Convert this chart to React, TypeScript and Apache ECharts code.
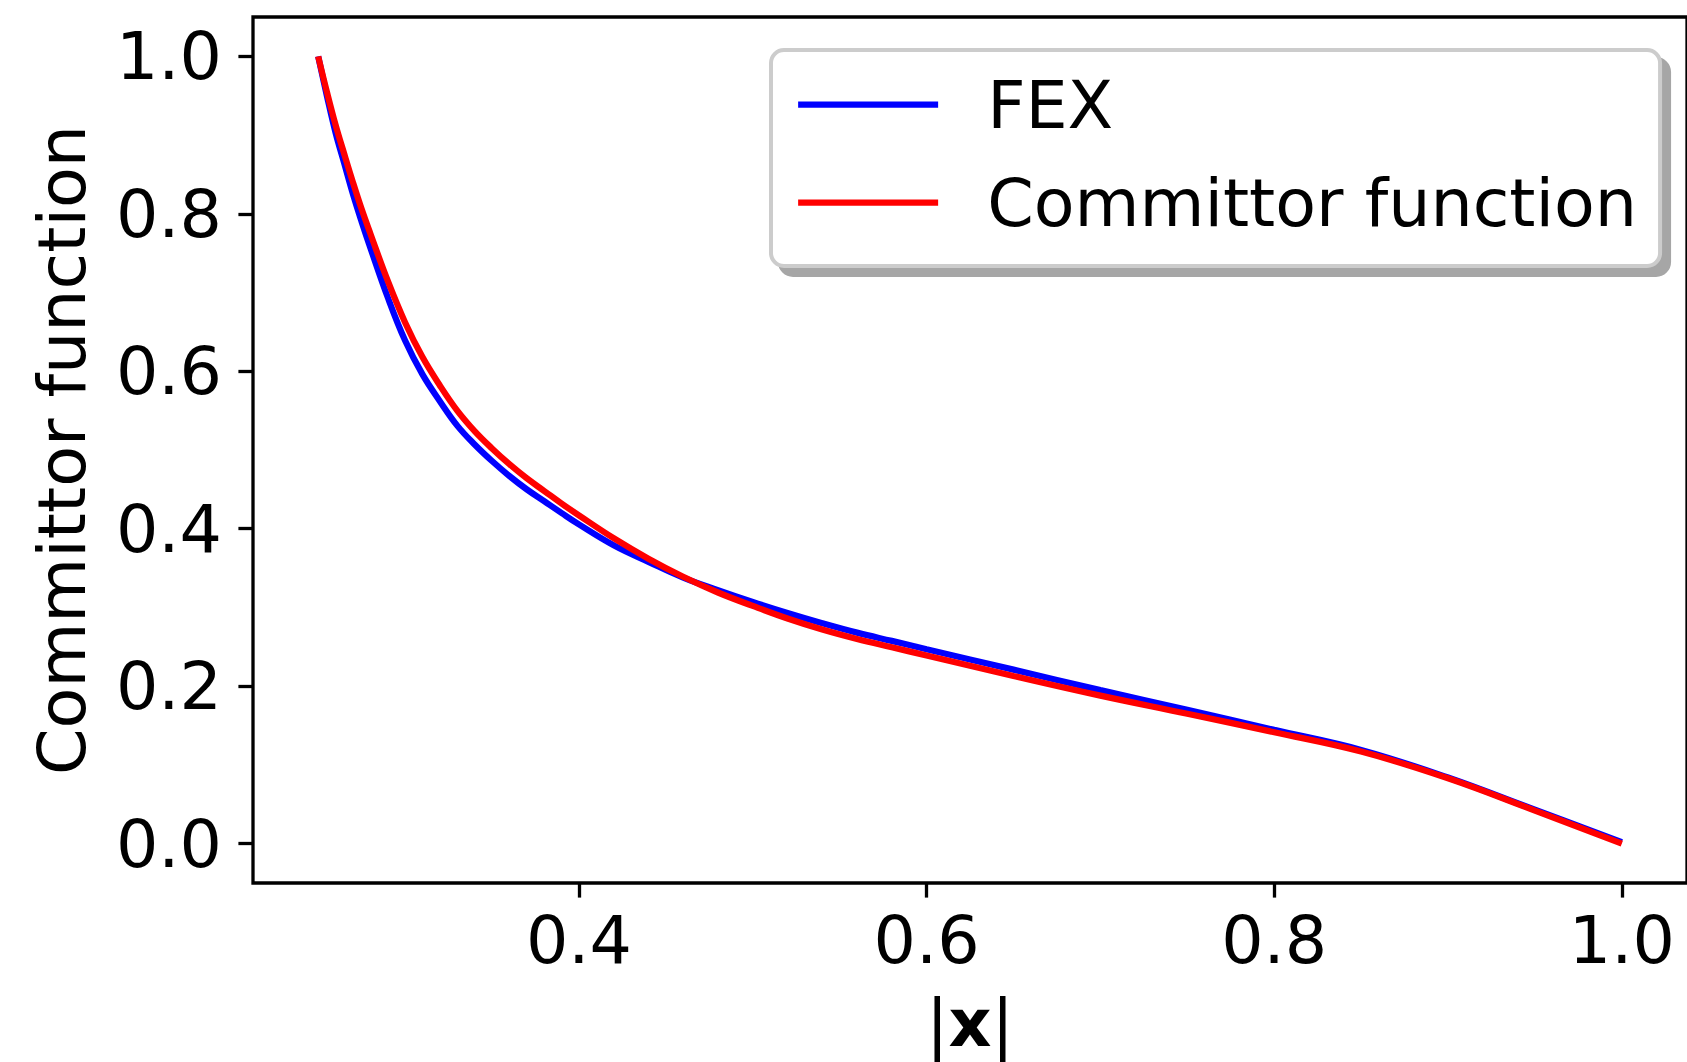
import React, { useEffect, useRef } from "react";
import * as echarts from "echarts";

const xValues = [
  0.25, 0.255, 0.26, 0.265, 0.27, 0.275, 0.28, 0.29, 0.3, 0.31, 0.32, 0.33, 0.34, 0.35, 0.36, 0.37, 0.38, 0.39,
  0.4, 0.42, 0.44, 0.46, 0.48, 0.5, 0.52, 0.54, 0.56, 0.58, 0.6, 0.65, 0.7, 0.75, 0.8, 0.85, 0.9, 0.95, 1.0,
];
const fexValues = [
  1.0, 0.95, 0.903, 0.864, 0.825, 0.79, 0.757, 0.694, 0.639, 0.596, 0.562, 0.531, 0.507, 0.486, 0.467, 0.45, 0.435, 0.42,
  0.4055, 0.379, 0.358, 0.338, 0.322, 0.307, 0.293, 0.28, 0.268, 0.2575, 0.247, 0.221, 0.195, 0.17, 0.1445, 0.119, 0.084, 0.043, 0.002,
];
const committorValues = [
  1.0, 0.955, 0.913, 0.876, 0.84, 0.806, 0.775, 0.715, 0.662, 0.618, 0.582, 0.55, 0.524, 0.502, 0.482, 0.464, 0.448, 0.432,
  0.417, 0.388, 0.362, 0.339, 0.319, 0.302, 0.286, 0.272, 0.26, 0.2495, 0.239, 0.213, 0.188, 0.165, 0.1415, 0.117, 0.083, 0.042, 0.0,
];
const xTicks = [0.4, 0.6, 0.8, 1.0];
const yTicks = [0.0, 0.2, 0.4, 0.6, 0.8, 1.0];
const seriesNames = ["FEX", "Committor function"];

const FONT = "DejaVu Sans";
const FS = 66.7;

export default function App() {
  const ref = useRef<HTMLDivElement>(null);
  useEffect(() => {
    document.body.style.margin = "0";
    const chart = echarts.init(ref.current!, null, { renderer: "svg" });
    const tickStyle = { show: true, length: 14.6, lineStyle: { color: "#000", width: 3.3 } };
    chart.setOption({
      animation: false,
      backgroundColor: "#fff",
      grid: {
        left: 253,
        top: 17,
        bottom: 179,
        right: -9.6,
        show: true,
        borderColor: "#000",
        borderWidth: 3.3,
        backgroundColor: "transparent",
      },
      legend: {
        left: 771,
        top: 50,
        orient: "vertical",
        data: seriesNames,
        itemWidth: 140,
        itemHeight: 67,
        itemGap: 31,
        padding: [21, 23, 30, 24],
        backgroundColor: "#fff",
        borderColor: "#cccccc",
        borderWidth: 4,
        borderRadius: 13,
        shadowColor: "#a6a6a6",
        shadowBlur: 0,
        shadowOffsetX: 9,
        shadowOffsetY: 9,
        itemStyle: { opacity: 0 },
        lineStyle: { width: 6.25 },
        formatter: (name: string) => `{gap|}{txt|${name}}`,
        textStyle: {
          rich: {
            gap: { width: 44, height: 67 },
            txt: { fontSize: FS, fontFamily: FONT, color: "#000", lineHeight: 67 },
          },
        },
      },
      xAxis: {
        type: "value",
        min: 0.2125,
        max: 1.0375,
        name: "{n||}{b|x}{n||}",
        nameLocation: "middle",
        nameGap: 106,
        nameTextStyle: {
          fontSize: FS,
          fontFamily: FONT,
          color: "#000",
          rich: {
            n: { fontSize: FS, fontFamily: FONT, color: "#000" },
            b: { fontSize: FS, fontFamily: FONT, color: "#000", fontWeight: "bold" },
          },
        },
        axisLine: { show: false, onZero: false },
        splitLine: { show: false },
        axisTick: { ...tickStyle, customValues: xTicks },
        axisLabel: {
          customValues: xTicks,
          margin: 23,
          fontSize: FS,
          fontFamily: FONT,
          color: "#000",
          formatter: (v: number) => v.toFixed(1),
        },
      },
      yAxis: {
        type: "value",
        min: -0.05,
        max: 1.05,
        name: "Committor function",
        nameLocation: "middle",
        nameGap: 158,
        nameTextStyle: { fontSize: FS, fontFamily: FONT, color: "#000" },
        axisLine: { show: false, onZero: false },
        splitLine: { show: false },
        axisTick: { ...tickStyle, customValues: yTicks },
        axisLabel: {
          customValues: yTicks,
          margin: 31,
          fontSize: FS,
          fontFamily: FONT,
          color: "#000",
          formatter: (v: number) => v.toFixed(1),
        },
      },
      series: [
        {
          name: seriesNames[0],
          type: "line",
          data: xValues.map((x, i) => [x, fexValues[i]]),
          showSymbol: false,
          symbol: "none",
          smooth: 0.4,
          lineStyle: { color: "#0000ff", width: 6.25 },
          itemStyle: { color: "#0000ff" },
          z: 2,
        },
        {
          name: seriesNames[1],
          type: "line",
          data: xValues.map((x, i) => [x, committorValues[i]]),
          showSymbol: false,
          symbol: "none",
          smooth: 0.4,
          lineStyle: { color: "#ff0000", width: 6.25 },
          itemStyle: { color: "#ff0000" },
          z: 3,
        },
      ],
    });
    return () => chart.dispose();
  }, []);
  return <div ref={ref} style={{ position: "fixed", left: 0, top: 0, width: 1687, height: 1062 }} />;
}
